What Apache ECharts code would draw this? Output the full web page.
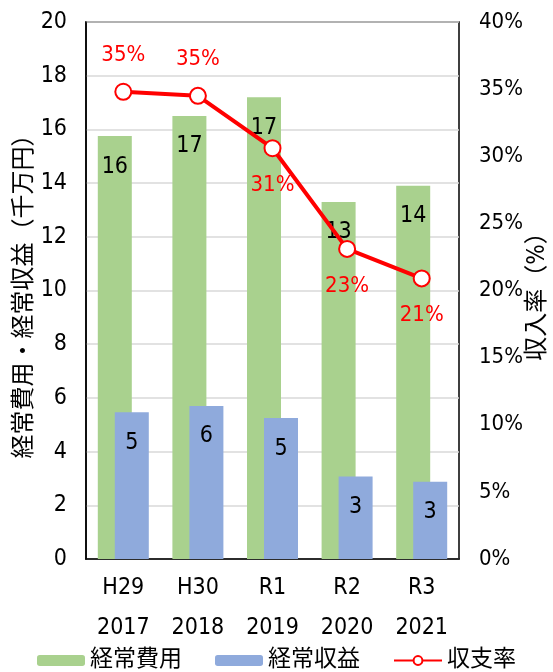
<!DOCTYPE html>
<html>
<head>
<meta charset="utf-8">
<script src="https://cdn.jsdelivr.net/npm/echarts@6/dist/echarts.min.js"></script>
<style>
  html, body { margin: 0; padding: 0; background: #fff; }
  #main { width: 553px; height: 672px; }
</style>
</head>
<body>
<div id="main"></div>
<script>
// 年度
const years = ['H29\n2017', 'H30\n2018', 'R1\n2019', 'R2\n2020', 'R3\n2021']
// 経常費用（千万円）
const costs = [15.75, 16.5, 17.2, 13.3, 13.9]
// 経常収益（千万円）
const revenues = [5.47, 5.7, 5.25, 3.07, 2.88]
// 収支率（%）
const ratios = [34.8, 34.5, 30.6, 23.1, 20.9]
// 収支率ラベルの位置
const ratioLabelPos = ['top', 'top', 'bottom', 'bottom', 'bottom']

const font = '"DejaVu Sans Condensed", "Noto Sans CJK JP", sans-serif'

const myChart = echarts.init(document.getElementById('main'))

const option = {
  textStyle: { fontFamily: font },
  animation: false,
  grid: {
    left: 86,
    right: 94,
    top: 22,
    bottom: 113,
    outerBoundsMode: 'none',
    containLabel: false,
    show: true,
    borderColor: '#000',
    borderWidth: 1.5
  },
  legend: {
    top: 644,
    left: 'center',
    itemWidth: 48,
    itemHeight: 11,
    itemGap: 33,
    textStyle: { fontSize: 23, color: '#000', fontFamily: font },
    data: ['経常費用', '経常収益', '収支率']
  },
  xAxis: {
    type: 'category',
    data: years,
    axisLine: { lineStyle: { color: '#000', width: 1.5 } },
    axisTick: { show: false },
    axisLabel: { fontSize: 23, color: '#000', lineHeight: 40, margin: 9 }
  },
  yAxis: [
    {
      type: 'value',
      min: 0,
      max: 20,
      interval: 2,
      name: '経常費用・経常収益（千万円）',
      nameLocation: 'middle',
      nameRotate: 90,
      nameGap: 49,
      nameMoveOverlap: false,
      nameTextStyle: { fontSize: 24, color: '#000' },
      axisLine: { show: true, lineStyle: { color: '#000', width: 1.5 } },
      axisLabel: { fontSize: 23, color: '#000', margin: 19 },
      splitLine: { lineStyle: { color: '#d9d9d9', width: 1.5 } }
    },
    {
      type: 'value',
      min: 0,
      max: 40,
      interval: 5,
      name: '収入率（%）',
      nameLocation: 'middle',
      nameRotate: 90,
      nameGap: 67,
      nameMoveOverlap: false,
      nameTextStyle: { fontSize: 24, color: '#000' },
      axisLine: { show: false },
      axisLabel: { fontSize: 22, color: '#000', margin: 20, formatter: '{value}%' },
      splitLine: { show: false }
    }
  ],
  series: [
    {
      name: '経常費用',
      type: 'bar',
      data: costs,
      barWidth: 34,
      barGap: '-50%',
      itemStyle: { color: '#a9d18e' },
      label: {
        show: true,
        position: 'insideTop',
        distance: 19,
        fontSize: 23,
        color: '#000',
        formatter: (p) => Math.round(p.value)
      }
    },
    {
      name: '経常収益',
      type: 'bar',
      data: revenues,
      barWidth: 34,
      barGap: '-50%',
      itemStyle: { color: '#8faadc' },
      label: {
        show: true,
        position: 'insideTop',
        distance: 19,
        fontSize: 23,
        color: '#000',
        formatter: (p) => Math.round(p.value)
      }
    },
    {
      name: '収支率',
      type: 'line',
      yAxisIndex: 1,
      data: ratios.map((v, i) => ({
        value: v,
        label: { position: ratioLabelPos[i] }
      })),
      symbol: 'circle',
      symbolSize: 16,
      lineStyle: { color: '#ff0000', width: 4 },
      itemStyle: { color: '#fff', borderColor: '#ff0000', borderWidth: 2 },
      label: {
        show: true,
        distance: 17,
        fontSize: 22,
        color: '#ff0000',
        formatter: (p) => Math.round(p.value) + '%'
      },
      z: 5
    }
  ]
}

option && myChart.setOption(option)
</script>
</body>
</html>
